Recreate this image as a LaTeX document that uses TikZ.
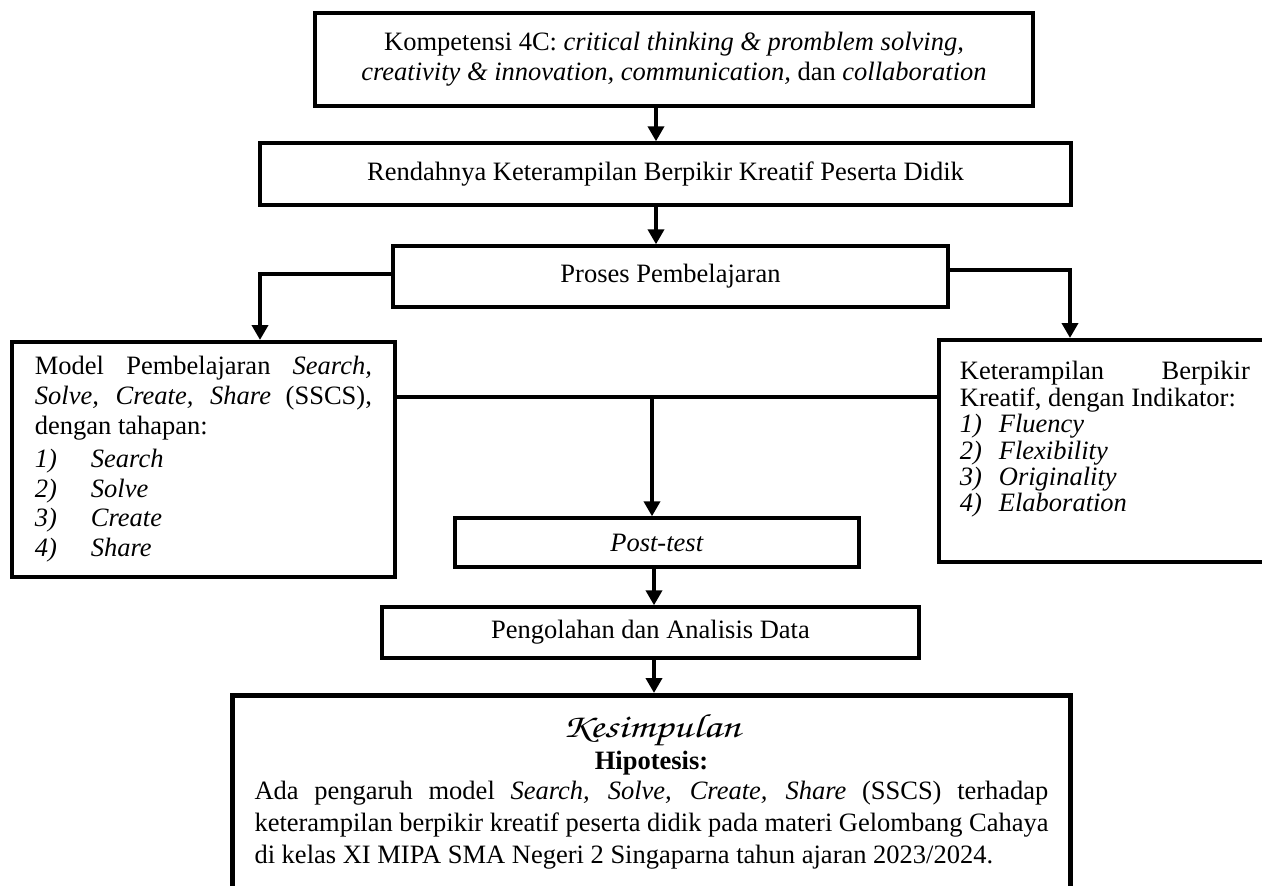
\documentclass[tikz,border=0pt]{standalone}
\usepackage{fontspec}
\setmainfont{Liberation Serif}
\usetikzlibrary{arrows.meta}
\setlength{\parindent}{0pt}
\newcommand{\scriptfnt}{\fontencoding{OT1}\fontfamily{pzc}\fontseries{m}\fontshape{it}\selectfont}
\tikzset{
  box/.style={draw, line width=3.4pt, inner sep=0pt, align=center,
    font=\fontsize{26.5}{30}\selectfont},
  tbox/.style={draw, line width=3.8pt, anchor=north west, align=justify,
    inner ysep=0pt},
  conn/.style={line width=4.6pt},
  arr/.style={line width=4.6pt, -{Triangle[width=16pt,length=15pt]}},
}
\begin{document}
\begin{tikzpicture}[x=1pt,y=-1pt]
\useasboundingbox[fill=white] (0,0) rectangle (1262,886);
% boxes
\node[box, minimum width=718pt, minimum height=93pt] (b1) at (674,59.5)
  {Kompetensi 4C: \textit{critical thinking \& promblem solving,}\\
   \textit{creativity \& innovation, communication,} dan \textit{collaboration}};
\node[box, minimum width=811pt, minimum height=62pt] (b2) at (665.5,174)
  {Rendahnya Keterampilan Berpikir Kreatif Peserta Didik};
\node[box, minimum width=555pt, minimum height=61pt] (b3) at (670.5,276.5)
  {Proses Pembelajaran};
\node[tbox, inner xsep=23pt, text width=337pt, text depth=202pt,
      font=\fontsize{26.5}{29.6}\selectfont] (b4) at (10,340)
  {\rule{0pt}{33pt}Model Pembelajaran \textit{Search,}\linebreak
   \textit{Solve, Create, Share} (SSCS),\linebreak
   dengan tahapan:\par\vspace{4pt}
   \makebox[56pt][l]{\textit{1)}}\textit{Search}\par
   \makebox[56pt][l]{\textit{2)}}\textit{Solve}\par
   \makebox[56pt][l]{\textit{3)}}\textit{Create}\par
   \makebox[56pt][l]{\textit{4)}}\textit{Share}};
\node[tbox, inner xsep=21pt, text width=290pt, text depth=182pt,
      font=\fontsize{26.5}{26.4}\selectfont] (b5) at (937,338)
  {\rule{0pt}{40pt}Keterampilan Berpikir\linebreak
   Kreatif, dengan Indikator:\par
   \makebox[39pt][l]{\textit{1)}}\textit{Fluency}\par
   \makebox[39pt][l]{\textit{2)}}\textit{Flexibility}\par
   \makebox[39pt][l]{\textit{3)}}\textit{Originality}\par
   \makebox[39pt][l]{\textit{4)}}\textit{Elaboration}};
\node[box, minimum width=404pt, minimum height=49pt] (b6) at (657,542.5)
  {\textit{Post-test}};
\node[box, minimum width=537pt, minimum height=51pt] (b7) at (650.5,632.5)
  {Pengolahan dan Analisis Data};
\node[tbox, line width=5pt, inner xsep=22pt, text width=794pt, text depth=172pt,
      font=\fontsize{26.5}{32}\selectfont] (b8) at (230,693)
  {\makebox[\linewidth]{\rule{0pt}{37.5pt}\raisebox{-4pt}{\scalebox{1.42}[1.12]{\fontsize{30}{32}\scriptfnt Kesimpulan}}}\par
   \vspace{3pt}
   \makebox[\linewidth]{\textbf{Hipotesis:}}\par
   \vspace{-2pt}
   Ada pengaruh model \textit{Search, Solve, Create, Share} (SSCS) terhadap\linebreak
   keterampilan berpikir kreatif peserta didik pada materi Gelombang Cahaya\linebreak
   di kelas XI MIPA SMA Negeri 2 Singaparna tahun ajaran 2023/2024.\par};
% connector x positions
\coordinate (xa) at (656,0);
\coordinate (xc) at (654,0);
\coordinate (lt) at (260,274);
\coordinate (rt) at (1070,270);
\coordinate (j) at (652,397);
% connectors
\draw[arr] (b1.south -| xa) -- (b2.north -| xa);
\draw[arr] (b2.south -| xa) -- (b3.north -| xa);
\draw[arr] (b3.west |- lt) -| (b4.north -| lt);
\draw[arr] (b3.east |- rt) -| (b5.north -| rt);
\draw[conn] (b4.east |- j) -- (b5.west |- j);
\draw[arr] (j) -- (b6.north -| j);
\draw[arr] (b6.south -| xc) -- (b7.north -| xc);
\draw[arr] (b7.south -| xc) -- (b8.north -| xc);
\end{tikzpicture}
\end{document}
